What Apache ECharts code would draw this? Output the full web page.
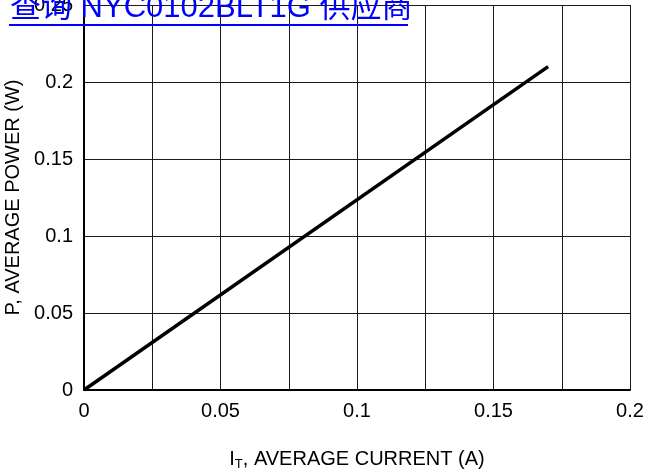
<!DOCTYPE html>
<html><head><meta charset="utf-8">
<script src="https://cdn.jsdelivr.net/npm/echarts@6/dist/echarts.min.js"></script>
<style>html,body{margin:0;padding:0;background:#fff}#c{width:648px;height:474px}</style>
</head><body><div id="c"></div>
<script>
const currentA = [0, 0.17];
const powerW = [0, 0.21];
const xTicks = [0, 0.05, 0.1, 0.15, 0.2];
const yTicks = [0, 0.05, 0.1, 0.15, 0.2, 0.25];
const titleText = '查询 NYC0102BLT1G 供应商';

const chart = echarts.init(document.getElementById('c'));
const fam = '"Liberation Sans", Arial, sans-serif';
function fmt(v){
  const r = Math.round(v*1000)/1000;
  for (const t of xTicks.concat(yTicks)) if (Math.abs(t-r)<1e-9) return String(t);
  return '';
}
chart.setOption({
  animation:false,
  grid:{left:84,right:18,top:5,bottom:84,containLabel:false,outerBoundsMode:'none'},
  xAxis:{type:'value',min:0,max:0.2,interval:0.025,
    axisLine:{lineStyle:{color:'#000',width:2}},
    axisTick:{show:false},
    axisLabel:{formatter:fmt,color:'#000',fontSize:20,fontFamily:fam,margin:11},
    splitLine:{lineStyle:{color:'#1a1a1a',width:1}},
    name:'{a|I}{s|T}{a|, AVERAGE CURRENT (A)}',nameLocation:'middle',nameGap:58,
    nameTextStyle:{rich:{a:{fontSize:20,fontFamily:fam,color:'#000'},s:{fontSize:13,fontFamily:fam,color:'#000',verticalAlign:'bottom',padding:[10,0,0,0]}}}
  },
  yAxis:{type:'value',min:0,max:0.25,interval:0.05,
    axisLine:{lineStyle:{color:'#000',width:2}},
    axisTick:{show:false},
    axisLabel:{formatter:fmt,color:'#000',fontSize:20,fontFamily:fam,margin:11},
    splitLine:{lineStyle:{color:'#1a1a1a',width:1}},
    name:'P, AVERAGE POWER (W)',nameLocation:'middle',nameGap:55,
    nameTextStyle:{fontSize:20,fontFamily:fam,color:'#000'}
  },
  series:[{type:'line',data:currentA.map((x,i)=>[x,powerW[i]]),showSymbol:false,
    lineStyle:{color:'#000',width:3.5},z:5}],
  graphic:[
    {type:'text',left:10,top:-7,z:100,style:{text:titleText,fill:'#0000ff',fontSize:31,fontFamily:'"Liberation Sans","Noto Sans CJK SC",sans-serif'}},
    {type:'rect',shape:{x:9,y:24,width:399,height:2},style:{fill:'#0000ff'},z:100}
  ]
});
</script></body></html>
